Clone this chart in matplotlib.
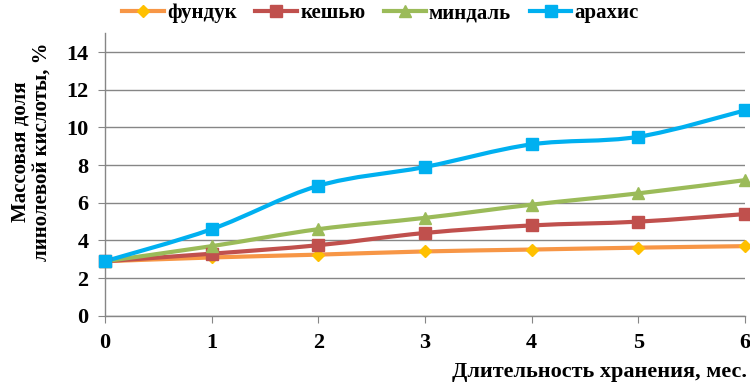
import numpy as np
import matplotlib.pyplot as plt
from matplotlib.path import Path
from matplotlib.patches import PathPatch
from matplotlib.lines import Line2D

plt.rcParams['font.family'] = ['Liberation Serif', 'DejaVu Serif']
plt.rcParams['font.weight'] = 'bold'

months = [0, 1, 2, 3, 4, 5, 6]
hazelnut = [2.9, 3.1, 3.25, 3.42, 3.52, 3.62, 3.7]
cashew = [2.9, 3.3, 3.75, 4.4, 4.8, 5.0, 5.4]
almond = [2.9, 3.7, 4.6, 5.2, 5.9, 6.5, 7.2]
peanut = [2.9, 4.6, 6.9, 7.9, 9.1, 9.5, 10.9]

series = [
    ('фундук', hazelnut, '#F79646', 'D', '#FFC000', 6.5),
    ('кешью', cashew, '#C0504D', 's', '#C0504D', 8),
    ('миндаль', almond, '#9BBB59', '^', '#9BBB59', 8),
    ('арахис', peanut, '#00B0F0', 's', '#00B0F0', 8),
]


def smooth_path(x, y):
    # Excel-like smoothed line: cubic Bezier segments through the points
    pts = np.column_stack([x, y]).astype(float)
    verts = [pts[0]]
    codes = [Path.MOVETO]
    n = len(pts)
    for i in range(n - 1):
        p0 = pts[max(i - 1, 0)]
        p1 = pts[i]
        p2 = pts[i + 1]
        p3 = pts[min(i + 2, n - 1)]
        c1 = p1 + (p2 - p0) / 6
        c2 = p2 - (p3 - p1) / 6
        verts += [c1, c2, p2]
        codes += [Path.CURVE4] * 3
    return Path(verts, codes)


fig = plt.figure(figsize=(7.5, 3.9), dpi=100)
ax = fig.add_axes([0.14, 0.19, 0.853, 0.725])

handles = []
for label, vals, color, marker, mcolor, ms in series:
    ax.add_patch(PathPatch(smooth_path(months, vals), facecolor='none',
                           edgecolor=color, lw=3, zorder=3))
    ax.plot(months, vals, ls='none', marker=marker, ms=ms, color=mcolor,
            zorder=4, clip_on=False)
    handles.append(Line2D([], [], color=color, lw=3, marker=marker,
                          ms=ms, markerfacecolor=mcolor, markeredgecolor=mcolor))

ax.set_xlim(0, 6)
ax.set_ylim(0, 15)
ax.set_xticks(months)
ax.set_yticks(np.arange(0, 15, 2))
ax.grid(axis='y', color='#868686', lw=1)
ax.set_axisbelow(True)
for s in ['top', 'right']:
    ax.spines[s].set_visible(False)
for s in ['left', 'bottom']:
    ax.spines[s].set_color('#868686')
    ax.spines[s].set_linewidth(1)
ax.tick_params(direction='out', length=5, color='#868686', labelsize=16,
               pad=7)
for t in ax.get_xticklabels() + ax.get_yticklabels():
    t.set_fontweight('bold')

ax.set_ylabel('Массовая доля\nлинолевой кислоты, %', fontsize=15,
              fontweight='bold', linespacing=1.1)
ax.yaxis.set_label_coords(-0.083, 0.58)
fig.text(0.996, 0.02, 'Длительность хранения, мес.', ha='right',
         va='bottom', fontsize=16, fontweight='bold')

fig.legend(handles, [s[0] for s in series], loc='upper left',
           bbox_to_anchor=(0.138, 1.04), ncol=4, frameon=False,
           prop={'size': 15, 'weight': 'bold'}, handlelength=2.0,
           handletextpad=0.15, columnspacing=0.9)

fig.savefig('out.png', dpi=100)
